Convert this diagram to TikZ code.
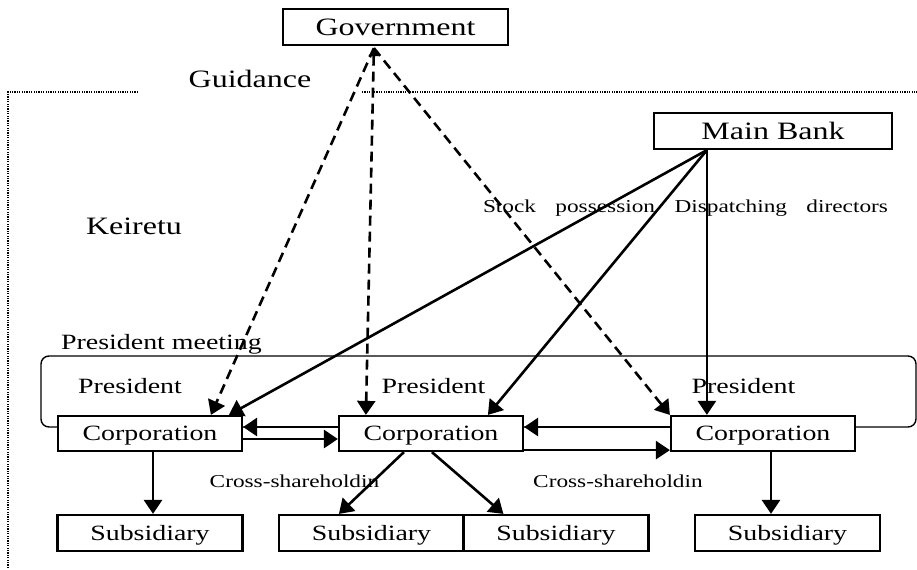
\documentclass[tikz,border=0pt]{standalone}
\usepackage{fontspec}
\setmainfont[FakeStretch=1.28]{Liberation Serif}
\usetikzlibrary{arrows.meta}

\begin{document}
\begin{tikzpicture}[x=0.5pt, y=-0.5pt,
        box/.style={draw, line width=1.1pt, fill=white, inner sep=0pt, text depth=0pt,
            minimum width=92pt, minimum height=17.5pt, font=\fontsize{10.9}{13}\selectfont},
        topbox/.style={box, minimum width=#1, minimum height=18pt, font=\fontsize{12.5}{15}\selectfont},
        arr/.style={line width=1.3pt, -{Triangle[length=7pt, width=9pt]}},
        guide/.style={arr, dash pattern=on 5pt off 3pt},
        lbl/.style={anchor=base, inner sep=0pt, font=\fontsize{10.9}{13}\selectfont},
        biglbl/.style={lbl, font=\fontsize{12.5}{15}\selectfont},
        smalllbl/.style={lbl, font=\fontsize{9.1}{11}\selectfont},
        frame/.style={line width=0.8pt, dash pattern=on 0.6pt off 0.6pt}]
    \useasboundingbox (0,0) rectangle (917,569);

    % keiretsu frame, open at the top for the guidance label
    \draw [frame] (138,92) -- (8,92) -- (8,569);
    \draw [frame] (362,92) -- (917,92);

    % president meeting
    \draw [line width=0.7pt, rounded corners=4pt] (41,356) rectangle (916,427);

    \node [topbox=112.5pt] (gov) at (395.5,27) {Government};
    \node [topbox=119pt] (bank) at (773,131) {Main Bank};

    \node [box] (corp1) at (150,433.5) {Corporation};
    \node [box] (corp2) at (431,433.5) {Corporation};
    \node [box] (corp3) at (763,433.5) {Corporation};

    \node [box, minimum width=92.5pt, minimum height=18pt] (sub1) at (150,533) {Subsidiary};
    \node [box, minimum width=92.5pt, minimum height=18pt] (sub2) at (371.5,533) {Subsidiary};
    \node [box, minimum width=92.5pt, minimum height=18pt] (sub3) at (556,533) {Subsidiary};
    \node [box, minimum width=92.5pt, minimum height=18pt] (sub4) at (787.5,533) {Subsidiary};

    \node [biglbl] (guidance) at (250,87) {Guidance};
    \node [biglbl] (keiretu) at (134,234) {Keiretu};
    \node [lbl] (meeting) at (161.5,349) {President meeting};
    \node [lbl] (pres1) at (130,393) {President};
    \node [lbl] (pres2) at (433.5,393) {President};
    \node [lbl] (pres3) at (743.5,393) {President};
    \node [smalllbl] (stock) at (685.5,212)
        {\makebox[202.5pt][s]{Stock possession Dispatching directors}};
    \node [smalllbl] (cross1) at (294.5,487) {Cross-shareholdin};
    \node [smalllbl] (cross2) at (618,487) {Cross-shareholdin};

    % guidance from the government
    \coordinate (g) at ([xshift=46pt, yshift=-1pt]gov.south west);
    \draw [guide] (g) -- ([xshift=77pt]corp1.north west);
    \draw [guide, {Triangle[length=4pt, width=5pt]}-{Triangle[length=7pt, width=9pt]}]
        (g) -- ([xshift=14pt]corp2.north west);
    \draw [guide] (g) -- (corp3.north west);

    % main bank
    \coordinate (b) at ([xshift=27pt]bank.south west);
    \draw [arr] (b) -- ([xshift=86pt]corp1.north west);
    \draw [arr] (b) -- ([xshift=75pt]corp2.north west);
    \draw [arr] (b) -- ([xshift=18.5pt]corp3.north west);

    % cross-shareholding
    \draw [arr] ([yshift=3.25pt]corp2.west) -- ([yshift=3.25pt]corp1.east);
    \draw [arr] ([yshift=-2.75pt]corp1.east) -- ([yshift=-2.75pt]corp2.west);
    \draw [arr] ([yshift=3.25pt]corp3.west) -- ([yshift=3.25pt]corp2.east);
    \draw [arr] ([yshift=1pt]corp2.south east) -- ([yshift=1pt]corp3.south west);

    % subsidiaries
    \draw [arr] ([xshift=1.5pt]corp1.south) -- ([xshift=1.5pt]corp1.south |- sub1.north);
    \draw [arr] ([xshift=33pt]corp2.south west) -- ([xshift=30.5pt]sub2.north west);
    \draw [arr] ([xshift=47pt]corp2.south west) -- ([xshift=20.5pt]sub3.north west);
    \draw [arr] ([xshift=4pt]corp3.south) -- ([xshift=4pt]corp3.south |- sub4.north);
\end{tikzpicture}
\end{document}
